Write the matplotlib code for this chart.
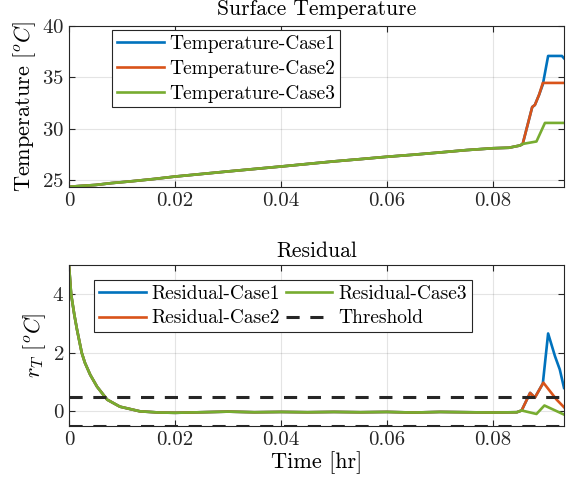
import numpy as np
import matplotlib
matplotlib.use("Agg")
import matplotlib.pyplot as plt

##Data##
# surface temperature, common part of all three cases (hr, degC)
t_temp_base = [0, 0.002, 0.005, 0.008, 0.012, 0.016, 0.020, 0.025, 0.030, 0.035,
               0.040, 0.045, 0.050, 0.055, 0.060, 0.065, 0.070, 0.075, 0.080,
               0.083, 0.0851, 0.0856]
temp_base = [24.32, 24.4, 24.5, 24.68, 24.87, 25.08, 25.32, 25.57, 25.82, 26.06,
             26.3, 26.55, 26.8, 27.02, 27.25, 27.45, 27.67, 27.9, 28.08,
             28.13, 28.35, 28.5]
# tails after the fault starts
t_temp1 = [0.0874, 0.0879, 0.0887, 0.0894, 0.0904, 0.0930, 0.0934]
temp1 = [32.1, 32.3, 33.3, 34.3, 37.08, 37.08, 36.85]
t_temp2 = [0.0874, 0.0879, 0.0887, 0.0894, 0.0934]
temp2 = [32.1, 32.3, 33.3, 34.45, 34.45]
t_temp3 = [0.0882, 0.0898, 0.0934]
temp3 = [28.74, 30.55, 30.55]

# residual, common part
t_res_base = [0, 0.0004, 0.001, 0.0015, 0.0024, 0.003, 0.004, 0.0053, 0.0072,
              0.0096, 0.0134, 0.017, 0.020, 0.025, 0.030, 0.035, 0.040, 0.045,
              0.050, 0.055, 0.060, 0.065, 0.070, 0.075, 0.080, 0.0845, 0.0854]
res_base = [5.0, 4.0, 3.3, 2.8, 2.0, 1.66, 1.25, 0.84, 0.40,
            0.16, 0.0, -0.04, -0.05, -0.03, -0.01, -0.03, -0.02, -0.03,
            -0.02, -0.03, -0.02, -0.04, -0.02, -0.03, -0.04, -0.03, 0.03]
t_res1 = [0.0870, 0.0879, 0.0894, 0.0904, 0.0917, 0.0926, 0.0934]
res1 = [0.63, 0.47, 0.95, 2.66, 1.88, 1.43, 0.8]
t_res2 = [0.0870, 0.0879, 0.0895, 0.0920, 0.0934]
res2 = [0.63, 0.47, 0.98, 0.4, 0.14]
t_res3 = [0.0882, 0.0897, 0.0934]
res3 = [-0.09, 0.2, -0.11]

threshold = 0.5
t_end = 0.0934

colors = ['#0072BD', '#D95319', '#77AC30']
axcol = '#262626'

plt.rcParams['font.family'] = 'serif'
plt.rcParams['font.serif'] = ['cmr10']
plt.rcParams['mathtext.fontset'] = 'cm'
plt.rcParams['axes.formatter.use_mathtext'] = True
plt.rcParams['font.size'] = 15


def style_axes(ax):
    for s in ax.spines.values():
        s.set_color(axcol)
        s.set_linewidth(0.8)
    ax.tick_params(direction='in', top=True, right=True, colors=axcol,
                   labelcolor=axcol, length=4, width=0.8, labelsize=15)
    ax.grid(True, color=axcol, alpha=0.12, linewidth=0.8)
    ax.set_axisbelow(True)


fig = plt.figure(figsize=(5.68, 4.87), dpi=100)
ax1 = fig.add_axes([0.1215, 0.616, 0.8715, 0.3306])
ax2 = fig.add_axes([0.1215, 0.1253, 0.8715, 0.3306])

# top panel: temperature
tails = [(t_temp1, temp1), (t_temp2, temp2), (t_temp3, temp3)]
for i, (tt, vv) in enumerate(tails):
    ax1.plot(t_temp_base + tt, temp_base + vv, color=colors[i], lw=1.9,
             label='Temperature-Case%d' % (i + 1))
ax1.set_xlim(0, t_end)
ax1.set_ylim(24.3, 40)
ax1.set_xticks([0, 0.02, 0.04, 0.06, 0.08])
ax1.set_xticklabels(['0', '0.02', '0.04', '0.06', '0.08'])
ax1.set_yticks([25, 30, 35, 40])
ax1.set_title('Surface Temperature', fontsize=15.5, color='k', pad=8)
ax1.set_ylabel(r'Temperature [$^oC$]', fontsize=16, color='k', labelpad=3)
style_axes(ax1)
leg1 = ax1.legend(loc='upper left', bbox_to_anchor=(0.087, 0.975), borderaxespad=0,
                  fancybox=False, framealpha=1, edgecolor=axcol, fontsize=14,
                  handlelength=2.4, labelspacing=0.35, borderpad=0.25, handletextpad=0.3)
leg1.get_frame().set_linewidth(0.8)

# bottom panel: residuals
rtails = [(t_res1, res1), (t_res2, res2), (t_res3, res3)]
for i, (tt, vv) in enumerate(rtails):
    ax2.plot(t_res_base + tt, res_base + vv, color=colors[i], lw=1.9,
             label='Residual-Case%d' % (i + 1))
ax2.axhline(threshold, color='#262626', lw=2.2, ls=(0, (4.3, 3.5)), label='Threshold')
ax2.axhline(-threshold, color='#262626', lw=2.2, ls=(0, (4.3, 3.5)))
ax2.set_xlim(0, t_end)
ax2.set_ylim(-0.5, 5)
ax2.set_xticks([0, 0.02, 0.04, 0.06, 0.08])
ax2.set_xticklabels(['0', '0.02', '0.04', '0.06', '0.08'])
ax2.set_yticks([0, 2, 4])
ax2.set_title('Residual', fontsize=15.5, color='k', pad=6)
ax2.set_ylabel(r'$r_T$ [$^oC$]', fontsize=16, color='k', labelpad=3)
ax2.set_xlabel('Time [hr]', fontsize=16, color='k', labelpad=2)
style_axes(ax2)
leg2 = ax2.legend(loc='upper left', bbox_to_anchor=(0.0505, 0.907), borderaxespad=0,
                  ncol=2, fancybox=False, framealpha=1, edgecolor=axcol, fontsize=14,
                  handlelength=2.4, labelspacing=0.35, borderpad=0.25, handletextpad=0.3,
                  columnspacing=0.3)
leg2.get_frame().set_linewidth(0.8)

fig.savefig('out.png', dpi=100)
